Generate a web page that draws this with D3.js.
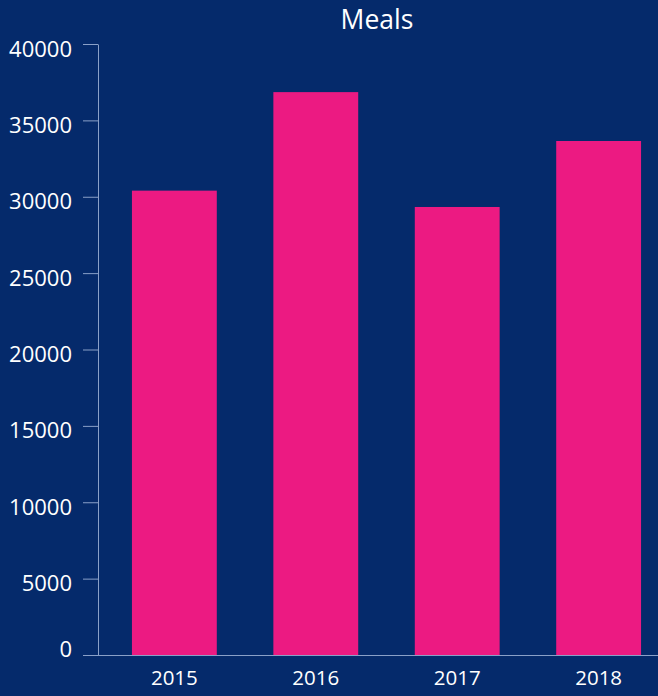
<!DOCTYPE html>
<html><head><meta charset="utf-8">
<script src="https://cdn.jsdelivr.net/npm/d3@7"></script>
<style>
html,body{margin:0;padding:0;background:#052a6b;}
svg{display:block;}
</style></head>
<body><svg id="c" width="658" height="696"></svg>
<script>
const title = "Meals";
const years = ["2015", "2016", "2017", "2018"];
const meals = [30400, 36850, 29330, 33650];
const yTicks = [0, 5000, 10000, 15000, 20000, 25000, 30000, 35000, 40000];

(function () {
const W = 658, H = 696;
const mLeft = 98, mTop = 44, mBottom = 655;
const svg = d3.select("#c");
svg.append("rect").attr("width", W).attr("height", H).attr("fill", "#052a6b");

const font = "'Open Sans', 'Noto Sans', sans-serif";
const axisColor = "#8aa0c8";

const y = d3.scaleLinear().domain([0, 40000]).range([mBottom, mTop]);
const x = d3.scaleBand().domain(years).range([mLeft, 675]).paddingInner(0.4).paddingOuter(0.24);

svg.append("text").attr("x", 377).attr("y", 29)
  .attr("text-anchor", "middle").attr("fill", "#ffffff")
  .attr("font-family", font).attr("font-size", 26.5).attr("font-weight", 500)
  .text(title);

svg.append("g").selectAll("rect").data(years).join("rect")
  .attr("x", d => x(d)).attr("width", x.bandwidth())
  .attr("y", (d, i) => y(meals[i])).attr("height", (d, i) => y(0) - y(meals[i]))
  .attr("fill", "#ec1a82");

const ya = svg.append("g").attr("transform", `translate(${mLeft},0)`)
  .call(d3.axisLeft(y).tickValues(yTicks).tickFormat(d3.format("d")).tickSize(15).tickSizeOuter(0).tickPadding(11));
ya.select(".domain").attr("stroke", axisColor);
ya.selectAll(".tick line").attr("stroke", axisColor);
ya.selectAll(".tick text").attr("fill", "#ffffff").attr("font-family", font).attr("font-size", 22)
  .attr("dy", d => d === 0 ? "0.05em" : "0.55em");

const xa = svg.append("g").attr("transform", `translate(0,${mBottom})`)
  .call(d3.axisBottom(x).tickSize(0).tickPadding(15.5));
xa.select(".domain").attr("stroke", axisColor).attr("d", `M${mLeft},0.5H${W}`);
xa.selectAll(".tick text").attr("fill", "#ffffff").attr("font-family", font).attr("font-size", 20.5);
})();
</script></body></html>
